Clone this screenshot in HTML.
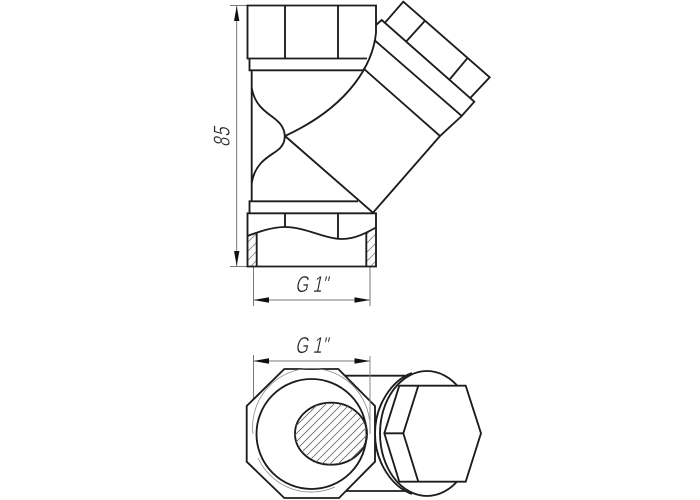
<!DOCTYPE html>
<html><head><meta charset="utf-8"><style>html,body{margin:0;padding:0;background:#fff}svg{display:block}text{font-family:"Liberation Sans",sans-serif;font-style:normal;font-size:23px;fill:#222;stroke:#fff;stroke-width:.4}</style></head>
<body><svg width="700" height="500" viewBox="0 0 700 500" xmlns="http://www.w3.org/2000/svg">
<defs>
<clipPath id="e"><ellipse cx="331" cy="433.7" rx="36" ry="31"/></clipPath>
<clipPath id="l"><path d="M247.5 236L256.5 231.5V266H247.5Z"/></clipPath>
<clipPath id="r"><path d="M366.5 231.5L375.5 227.5V266H366.5Z"/></clipPath>
</defs>
<g fill="none" stroke="#777" stroke-width="1">
<path d="M230 5.5H247M230 266.5H247M236.7 6V266"/>
<path d="M253.5 267V306M370 267V306M253.5 300H370"/>
<path d="M253.5 355V406M253.5 361H370"/>
</g>
<g fill="#111">
<path d="M236.7 6L234 21H239.4ZM236.7 266L234 251H239.4Z"/>
<path d="M253.5 300L269 297.3V302.7ZM370 300L354.5 297.3V302.7Z"/>
<path d="M253.5 361L269 358.3V363.7ZM370 361L354.5 358.3V363.7Z"/>
</g>
<g fill="none" stroke="#888" stroke-width=".8">
<g clip-path="url(#l)"><path d="M240 250L262 228M240 259L262 237M240 268L262 246M240 277L262 255"/></g>
<g clip-path="url(#r)"><path d="M360 250L382 228M360 259L382 237M360 268L382 246M360 277L382 255M360 241L382 219"/></g>
</g>
<g fill="none" stroke="#1c1c1c" stroke-width="1.85" stroke-linejoin="miter">
<!-- top nut -->
<path d="M376 33V5.5H247.5V58.5H367"/>
<path d="M285 5.5V58.5M338 5.5V58.5"/>
<path d="M249.5 58.5V70.3H363"/>
<path d="M251.7 70.3V201"/>
<path d="M376 33C373 62 352 105 285 136"/>
<path d="M251.7 88C256 112 275 115 281 125C286 132 286 141 281 147C275 155 256 158 251.7 183"/>
<path d="M285 136L373 212.7L440 136"/>
<!-- angled -->
<path d="M385 22.7L403.3 1.7L489.7 77.3L470 98.3"/>
<path d="M425 20.7L406 41.7M467.3 58.3L450 79"/>
<path d="M376 25L381.7 20L474.3 101.7L461.7 116L374.3 40"/>
<path d="M461.7 116L440 136L363.3 68.3"/>
<!-- bottom nut -->
<path d="M358 201.3H249.5V213.3"/>
<path d="M247.5 213.3H376V266.5H247.5Z"/>
<path d="M285 213.3V227M338 213.3V239"/>
<path d="M247.5 236C258 232 272 227 285 227C305 227 325 239 342 239C355 239 366 233 376 227.5"/>
<path d="M256.7 232V266.5M366.3 232V266.5"/>
<!-- bottom view -->
<path d="M338.5 375.7H405M338.5 491H405"/>
<path d="M375 433.5C375 405 392 380 412 373M375 433.5C375 462 392 487 412 494" />
<ellipse cx="427" cy="433.5" rx="47" ry="62.5" fill="#fff"/>
<path d="M284.3 369H338.3L375 406V461.7L339 498H284.3L246.7 461.7V406Z" fill="#fff"/>
<path d="M399.3 385.7H465.7L481 433.3L465.7 481.7H399.3L384.3 433.3Z" fill="#fff"/>
<path d="M418.3 385.7L403.3 433.3L418.3 481.7M384.3 433.3H403.3"/>
<circle cx="311.5" cy="434" r="55"/>
<ellipse cx="331" cy="433.7" rx="36" ry="31"/>
</g>
<g fill="none" stroke="#666" stroke-width=".8">
<g clip-path="url(#e)"><path d="M282 440L332 390M290 440L340 390M290 448L350 388M290 456L360 386M290 464L370 384M295 467L375 387M303 467L375 395M311 467L375 403M319 467L375 411M327 467L375 419M335 467L375 427M343 467L375 435M351 467L375 443"/></g>
<path d="M253 434A58.5 58.5 0 0 1 369.5 420M258 458A58.5 58.5 0 0 0 335 487" stroke="#888"/>
<path d="M370 356V434" stroke="#888" stroke-width="1"/>
</g>
<text transform="translate(295 292) skewX(-12) scale(.72 1)">G</text>
<text transform="translate(312.5 292) skewX(-12) scale(.72 1)">1"</text>
<text transform="translate(295 353) skewX(-12) scale(.72 1)">G</text>
<text transform="translate(312.5 353) skewX(-12) scale(.72 1)">1"</text>
<text transform="translate(229.5 147) rotate(-90) skewX(-12) scale(.72 1)" letter-spacing="1.5">85</text>
</svg></body></html>
